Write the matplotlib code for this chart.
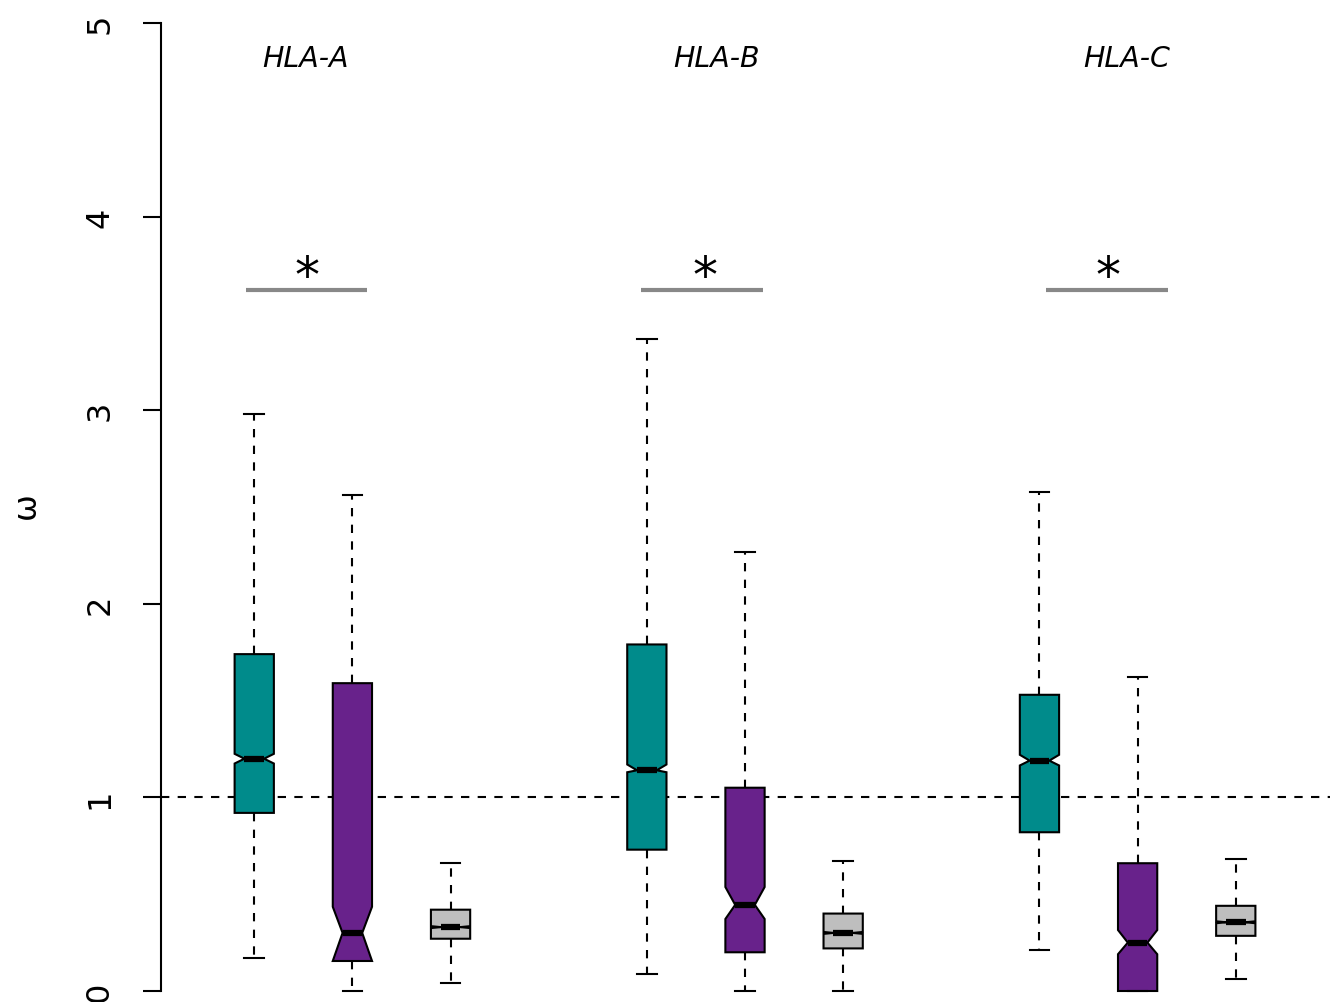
# notched boxplots of omega per HLA locus
import matplotlib
matplotlib.use('Agg')
import matplotlib.pyplot as plt

# box statistics (teal, purple, grey per locus)
positions = [1, 2, 3, 5, 6, 7, 9, 10, 11]
whishi = [2.98, 2.56, 0.66, 3.37, 2.27, 0.67, 2.58, 1.62, 0.68]
q3 = [1.74, 1.59, 0.42, 1.79, 1.05, 0.40, 1.53, 0.66, 0.44]
med = [1.20, 0.30, 0.33, 1.14, 0.445, 0.30, 1.19, 0.25, 0.355]
q1 = [0.92, 0.155, 0.27, 0.73, 0.20, 0.22, 0.82, 0.0, 0.285]
whislo = [0.17, 0.0, 0.04, 0.09, 0.0, 0.0, 0.21, 0.0, 0.06]
cilo = [1.175, 0.155, 0.325, 1.13, 0.372, 0.295, 1.165, 0.19, 0.35]
cihi = [1.225, 0.435, 0.335, 1.17, 0.537, 0.305, 1.22, 0.315, 0.36]
colors = ['#008B8B', '#68228B', '#BEBEBE'] * 3

loci = ['HLA-A', 'HLA-B', 'HLA-C']
locus_x = [1.52, 5.71, 9.89]
sig_x0 = [0.92, 4.94, 9.065]
sig_x1 = [2.15, 6.18, 10.31]
star_x = [1.54, 5.59, 9.70]

fig = plt.figure(figsize=(13.39, 10.03), dpi=100)
W, H = 1339, 1003
ax = fig.add_axes([161 / W, (H - 992) / H, (1330 - 161) / W, (992 - 24) / H])

stats = []
for i in range(len(positions)):
    stats.append(dict(med=med[i], q1=q1[i], q3=q3[i], whislo=whislo[i],
                      whishi=whishi[i], cilo=cilo[i], cihi=cihi[i], fliers=[]))

bp = ax.bxp(stats, positions=positions, widths=0.4, shownotches=True,
            patch_artist=True, showfliers=False,
            boxprops=dict(linewidth=1.5, edgecolor='black'),
            medianprops=dict(color='black', linewidth=4.5, solid_capstyle='butt'),
            whiskerprops=dict(color='black', linewidth=1.5, linestyle=(0, (4, 4))),
            capprops=dict(color='black', linewidth=1.5))
for patch, c in zip(bp['boxes'], colors):
    patch.set_facecolor(c)
for key in ['boxes', 'medians', 'whiskers', 'caps']:
    for a in bp[key]:
        a.set_clip_on(False)

ax.axhline(1, color='black', linewidth=1.5, linestyle=(0, (4, 4)), zorder=0.5)

for i in range(3):
    ax.text(locus_x[i], 4.82, loci[i], style='italic', fontsize=20.5,
            ha='center', va='center')
    ax.plot([sig_x0[i], sig_x1[i]], [3.62, 3.62], color='#888888', linewidth=3,
            solid_capstyle='butt')
    ax.text(star_x[i], 3.69, '*', fontsize=36, ha='center', va='center')

ax.set_xlim(0.05, 11.96)
ax.set_ylim(0, 5)
ax.set_yticks([0, 1, 2, 3, 4, 5])
ax.set_xticks([])
for s in ['top', 'right', 'bottom']:
    ax.spines[s].set_visible(False)
ax.spines['left'].set_linewidth(1.5)
ax.tick_params(axis='y', length=13, width=1.5, labelsize=23, pad=20)
for lbl in ax.get_yticklabels():
    lbl.set_rotation(90)
    lbl.set_va('center')
ax.set_ylabel('ω', fontsize=23)
ax.yaxis.set_label_coords(-0.102, 0.503)

fig.savefig('out.png', dpi=100)
